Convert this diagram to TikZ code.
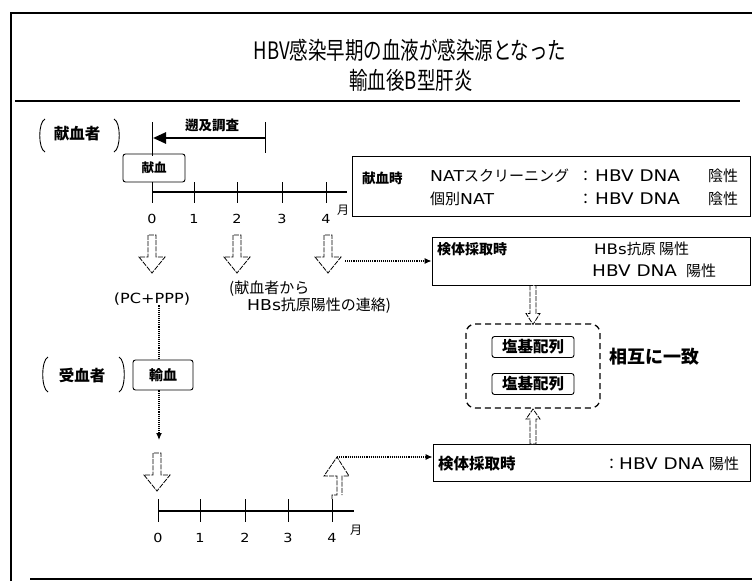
\documentclass[tikz,border=0pt]{standalone}
\usepackage{fontspec}
\setmainfont{Noto Sans CJK JP}
\newfontfamily\lat[FakeStretch=1.15]{DejaVu Sans}
\usetikzlibrary{arrows.meta}
\begin{document}
\begin{tikzpicture}[x=1pt,y=-1pt,
  frame/.style={line width=2.6pt},
  box/.style={draw,line width=0.9pt,inner sep=0pt},
  rbox/.style={box,rounded corners=2.5pt},
  lbl/.style={font=\fontsize{12.5}{14}\selectfont\bfseries,inner sep=0pt},
  big/.style={font=\fontsize{15.5}{17}\selectfont\bfseries,inner sep=0pt},
  txt/.style={font=\fontsize{15}{17}\selectfont,inner sep=0pt},
  ltx/.style={font=\fontsize{16}{18}\selectfont\lat,inner sep=0pt},
  num/.style={font=\fontsize{12.5}{15}\selectfont\lat,inner sep=0pt},
  ttl/.style={font=\fontsize{24}{28}\selectfont,inner sep=0pt},
  axis/.style={line width=1.5pt},
  tick/.style={line width=0.9pt},
  dotline/.style={densely dotted,line width=1.1pt},
  dotarrow/.style={dotline,-{Latex[length=7pt,width=6pt]}},
  hollow/.style={draw,line width=0.8pt,dash pattern=on 5pt off 1.2pt,fill=white},
  brk/.style={line width=0.9pt},
  hdown/.pic={\draw[hollow] (-4,0) -- (-4,22) -- (-13,22) -- (0,38) -- (13,22) -- (4,22) -- (4,0) -- cycle;},
  hdownS/.pic={\draw[hollow] (-3,0) -- (-3,28) -- (-7,28) -- (0,39) -- (7,28) -- (3,28) -- (3,0) -- cycle;},
  hupS/.pic={\draw[hollow] (-3,0) -- (-3,-25) -- (-7,-25) -- (0,-35) -- (7,-25) -- (3,-25) -- (3,0) -- cycle;},
]
\useasboundingbox (0,0) rectangle (752,581);
% frame
\draw[frame] (11,581) -- (11,13) -- (752,13);
\draw[frame] (30,579) -- (752,579);
\draw[line width=1.6pt] (15,101) -- (740,101);
% title
\node[ttl] (t1) at (410,50) {\scalebox{0.77}[1]{HBV感染早期の血液が感染源となった}};
\node[ttl] (t2) at (411,80) {\scalebox{0.77}[1]{輸血後B型肝炎}};
% donor bracket
\node[big] (donor) at (77,134) {献血者};
\draw[brk] (45,119) .. controls (38,122) and (38,149) .. (45,152);
\draw[brk] (114,119) .. controls (121,122) and (121,149) .. (114,152);
% upper timeline
\draw[tick] (152,122) -- (152,156);
\draw[tick] (265,122) -- (265,153);
\node[lbl,font=\fontsize{13.5}{15}\selectfont\bfseries] (sokyu) at (212,125) {遡及調査};
\coordinate (rs) at (265,138);
\coordinate (re) at (153,138);
\draw[line width=2.6pt,-{Triangle[length=13pt,width=11pt]}] (rs) -- (re);
\node[rbox,lbl,minimum width=62pt,minimum height=28pt] (kb) at (154,168) {献血};
\coordinate (u0) at (152,192);
\coordinate (uend) at (347,192);
\draw[axis] (u0) -- (uend);
\foreach \x/\n in {152/0,194/1,237/2,282/3,326/4}{
  \draw[tick] (\x,182) -- (\x,203);
  \node[num] at (\x,219) {\n};
}
\node[lbl,font=\fontsize{12}{14}\selectfont] (mon1) at (343,210) {月};
% NAT box
\node[box,minimum width=398pt,minimum height=60pt] (nat) at (551,186) {};
\node[big,font=\fontsize{13.5}{15}\selectfont\bfseries,anchor=west] (kt) at (362,178) {献血時};
\node[anchor=west,inner sep=0pt] (nat1) at (430,176) {{\fontsize{15}{17}\selectfont\lat NAT}{\fontsize{15}{17}\selectfont スクリーニング}};
\node[txt,anchor=west] (c1) at (578,176) {：};
\node[ltx,anchor=west] (h1) at (595,176) {HBV DNA};
\node[txt,anchor=west] (n1) at (708,176) {陰性};
\node[anchor=west,inner sep=0pt] (nat2) at (430,199) {{\fontsize{15}{17}\selectfont 個別}{\fontsize{15}{17}\selectfont\lat NAT}};
\node[txt,anchor=west] (c2) at (578,199) {：};
\node[ltx,anchor=west] (h2) at (595,199) {HBV DNA};
\node[txt,anchor=west] (n2) at (708,199) {陰性};
% hollow arrows upper
\pic at (152,235) {hdown};
\pic at (237,235) {hdown};
\pic at (328,235) {hdown};
% box 2
\node[box,minimum width=318pt,minimum height=48pt] (b2) at (591,261) {};
\node[big,font=\fontsize{14}{16}\selectfont\bfseries,anchor=west] (b2a) at (437,249) {検体採取時};
\node[anchor=west,inner sep=0pt] (b2b) at (594,249) {{\fontsize{14.5}{17}\selectfont\lat HBs}{\fontsize{14.5}{17}\selectfont 抗原}};
\node[txt,anchor=west] (b2bb) at (659,249) {陽性};
\node[ltx,anchor=west] (b2c) at (592,271) {HBV DNA};
\node[txt,anchor=west] (b2cc) at (686,271) {陽性};
\coordinate (d3) at (345,261);
\draw[dotarrow] (d3) -- (b2.west);
% labels under arrows
\node[font=\fontsize{14}{16}\selectfont\lat,inner sep=0pt] (pc) at (152,299) {(PC+PPP)};
\node[txt,anchor=west] (ren1) at (229,289) {(献血者から};
\node[anchor=west,inner sep=0pt] (ren2) at (247,306) {{\fontsize{15}{17}\selectfont\lat HBs}{\fontsize{15}{17}\selectfont 抗原陽性の連絡)}};
% recipient
\node[big] (recip) at (82,376) {受血者};
\draw[brk] (48,357) .. controls (41,360) and (41,389) .. (48,392);
\draw[brk] (119,357) .. controls (126,360) and (126,389) .. (119,392);
\node[rbox,big,font=\fontsize{14}{16}\selectfont\bfseries,minimum width=60pt,minimum height=30pt] (yb) at (163,375) {輸血};
\coordinate (xl) at (159,0);
\draw[dotline] (pc.south -| xl) -- (yb.north -| xl);
\coordinate (dt) at (159,440);
\draw[dotarrow] (yb.south -| xl) -- (dt);
\pic at (157,453) {hdown};
% lower timeline
\coordinate (l0) at (158,511);
\coordinate (lend) at (354,511);
\draw[axis] (l0) -- (lend);
\foreach \x/\n in {158/0,200/1,245/2,288/3,332/4}{
  \draw[tick] (\x,499) -- (\x,522);
  \node[num] at (\x,538) {\n};
}
\node[lbl,font=\fontsize{12}{14}\selectfont] (mon2) at (356,530) {月};
\coordinate (apex) at (337,457);
\draw[hollow] (332,499) -- (332,495) -- (337,495) -- (337,476) -- (324,476) -- (apex) -- (349,476) -- (342,476) -- (342,495);
% box 3
\node[box,minimum width=317pt,minimum height=37pt] (b3) at (591.5,463) {};
\draw[dotarrow] (apex) -- (apex -| b3.west);
\node[big,anchor=west] (b3a) at (438,464) {検体採取時};
\node[txt,anchor=west] (b3c) at (604,464) {：};
\node[ltx,anchor=west] (b3b) at (619,464) {HBV DNA};
\node[txt,anchor=west] (b3d) at (709,464) {陽性};
% sequence comparison
\node[draw,line width=1.3pt,dash pattern=on 6pt off 4pt,rounded corners=9pt,minimum width=134pt,minimum height=84pt] (dbox) at (533,366) {};
\node[rbox,big,minimum width=82pt,minimum height=21pt] (s1) at (533,347) {塩基配列};
\node[rbox,big,minimum width=82pt,minimum height=21pt] (s2) at (533,384) {塩基配列};
\node[font=\fontsize{18}{20}\selectfont\bfseries,inner sep=0pt] (sogo) at (654,357) {相互に一致};
\pic at (b2.south -| dbox.north) {hdownS};
\pic at (b3.north -| dbox.south) {hupS};
\end{tikzpicture}
\end{document}
